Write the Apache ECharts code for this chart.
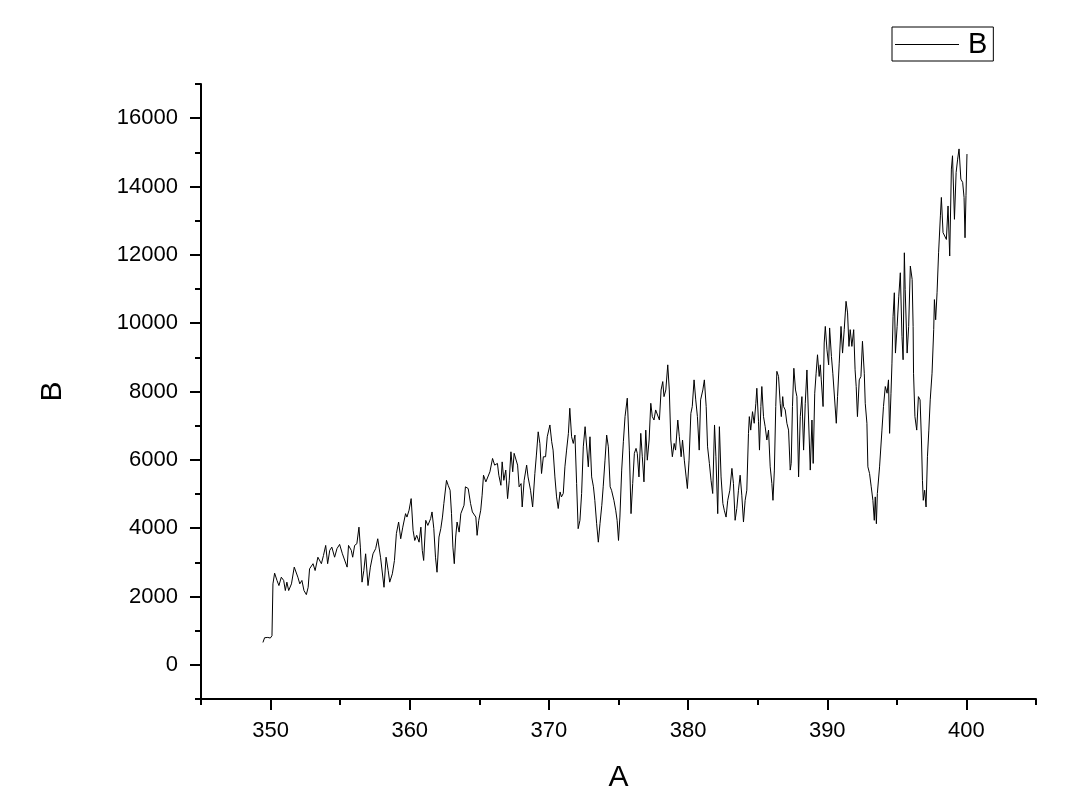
<!DOCTYPE html>
<html>
<head>
<meta charset="utf-8">
<script src="https://cdn.jsdelivr.net/npm/echarts@6/dist/echarts.min.js"></script>
<style>
html,body{margin:0;padding:0;background:#fff;}
#c{width:1077px;height:801px;}
</style>
</head>
<body>
<div id="c"></div>
<script>
// ---- data ----
const seriesName = 'B';
const xName = 'A';
const yName = 'B';
const xMajorTicks = [350, 360, 370, 380, 390, 400];
const xMinorTicks = [345, 355, 365, 375, 385, 395, 405];
const yMajorTicks = [0, 2000, 4000, 6000, 8000, 10000, 12000, 14000, 16000];
const yMinorTicks = [-1000, 1000, 3000, 5000, 7000, 9000, 11000, 13000, 15000, 17000];

const xValues = [
349.45,349.57,349.8,349.98,350.1,350.17,350.29,350.46,350.6,350.77,350.94,351.06,351.17,351.3,351.5,351.7,351.96,352.1,352.25,352.4,352.57,352.7,352.8,353.05,353.2,353.4,353.65,353.8,353.96,354.1,354.25,354.4,354.6,354.77,354.96,355.16,355.3,355.5,355.6,355.8,355.9,356.04,356.2,356.35,356.45,356.57,356.7,356.83,357.0,357.17,357.36,357.55,357.7,
357.9,358.0,358.15,358.3,358.45,358.56,358.75,358.9,359.04,359.2,359.35,359.5,359.7,359.8,359.95,360.1,360.24,360.36,360.5,360.67,360.8,360.9,361.0,361.15,361.3,361.5,361.6,361.73,361.85,361.96,362.1,362.23,362.35,362.45,362.64,362.76,362.9,363.0,363.1,363.2,363.3,363.4,363.55,363.67,363.8,363.9,364.0,364.2,364.37,364.5,364.6,364.75,364.84,364.96,365.1,365.2,365.3,365.47,365.6,
365.76,365.95,366.1,366.3,366.4,366.55,366.64,366.76,366.9,367.03,367.15,367.27,367.4,367.5,367.63,367.75,367.86,368.0,368.08,368.22,368.4,368.5,368.68,368.83,368.99,369.1,369.23,369.35,369.47,369.6,369.76,369.88,370.07,370.2,370.3,370.43,370.55,370.67,370.8,370.9,371.03,371.15,371.27,371.4,371.5,371.63,371.75,371.87,371.99,372.1,372.23,372.35,372.47,372.6,372.7,372.83,372.95,373.07,373.2,373.3,373.43,373.55,373.67,373.8,373.9,374.03,374.15,374.27,374.4,374.5,374.67,374.8,374.9,375.0,
375.1,375.23,375.35,375.47,375.63,375.78,375.9,376.02,376.14,376.26,376.35,376.47,376.6,376.71,376.83,376.96,377.07,377.2,377.32,377.43,377.55,377.67,377.8,377.94,378.06,378.18,378.27,378.4,378.54,378.65,378.76,378.87,379.0,379.1,379.26,379.37,379.5,379.6,379.73,379.86,379.95,380.07,380.2,380.3,380.43,380.55,380.67,380.8,380.9,381.06,381.17,381.3,381.4,381.53,381.65,381.77,381.9,382.0,382.13,382.25,382.37,382.5,382.6,382.73,382.85,
383.0,383.15,383.26,383.38,383.5,383.62,383.74,383.86,383.98,384.1,384.22,384.34,384.4,384.5,384.63,384.75,384.87,384.94,385.06,385.13,385.23,385.3,385.42,385.54,385.66,385.78,385.9,386.02,386.1,386.2,386.3,386.38,386.5,386.62,386.7,386.8,386.86,386.98,387.1,387.22,387.34,387.41,387.5,387.6,387.72,387.82,387.94,388.06,388.18,388.3,388.42,388.54,388.66,388.78,388.9,388.99,389.1,389.2,389.3,389.42,389.5,389.57,389.7,389.78,389.86,389.98,390.1,390.17,390.3,390.4,390.5,390.65,390.74,390.86,390.99,391.1,391.22,391.35,391.46,391.56,
391.65,391.77,391.9,392.0,392.08,392.17,392.3,392.42,392.53,392.66,392.73,392.85,392.92,393.04,393.16,393.28,393.38,393.45,393.53,393.6,393.76,393.93,394.04,394.17,394.3,394.4,394.48,394.58,394.65,394.73,394.82,394.9,395.02,395.14,395.25,395.37,395.45,395.54,395.6,395.74,395.85,395.97,396.1,396.17,396.2,396.3,396.43,396.55,396.67,396.77,396.84,396.9,397.0,397.1,397.2,397.3,397.4,397.53,397.65,397.7,397.79,397.89,398.0,398.13,398.2,398.32,398.44,398.56,398.68,398.8,398.92,399.0,399.14,399.26,399.37,399.47,399.6,399.73,399.83,399.9,399.97,400.04
];

const yValues = [
655,793,802,784,852,2370,2683,2470,2320,2565,2470,2175,2420,2175,2370,2860,2565,2370,2470,2175,2055,2270,2810,2960,2760,3150,2960,3200,3495,2960,3350,3445,3150,3400,3525,3250,3300,2860,3495,3350,3150,3495,3545,4030,3445,2420,2760,3250,2320,2860,3250,3400,3690,
3150,3100,2270,3150,2760,2420,2665,3055,3840,4180,3690,4030,4425,4325,4525,4865,3935,3640,3790,3590,4030,3350,3055,4230,4080,4280,4475,3985,3150,2710,3740,3985,4325,4720,5400,5255,5110,4425,3445,2960,3740,4180,3885,4425,4475,4670,5210,5160,4720,4475,4475,4325,3790,4230,4525,4965,5550,5355,5305,
5650,6040,5845,5895,5550,5255,5940,5400,5700,4865,5400,6235,5650,6190,6235,5845,5210,5305,4620,5400,5845,5500,5110,4620,5600,6140,6820,6480,5600,6090,6090,6675,7020,6530,6285,5500,4915,4575,5060,4915,5015,5795,6285,6775,7510,6675,6480,6725,5305,3985,4230,5015,6380,6970,7020,5795,6675,5500,5210,4815,4130,3590,4130,4670,5210,5990,6725,6380,5210,5110,4815,4525,4230,3640,
4325,5700,6530,7265,7805,6285,4425,5305,6190,6335,6190,5500,6775,6090,5355,6870,5990,6580,7655,7265,7165,7460,7510,7165,8045,8290,7850,8045,8780,8045,6580,6090,6480,6285,7165,6675,6090,6580,5990,5500,5160,5990,7360,7560,8340,7755,7265,6285,7755,8045,8340,7560,6380,5895,5400,5015,7020,6090,4425,6970,5500,4720,4525,4325,4815,
5110,5750,5305,4230,4575,5110,5550,4965,4180,4815,5110,6775,7265,6870,7410,7070,7655,8095,7115,6285,7560,8145,7265,6970,6580,6870,5795,5305,4815,5700,7560,8590,8440,7655,7265,7850,7560,7460,7070,6870,5700,5895,7560,8680,8045,7850,5500,7265,7850,6285,7655,8630,7165,5700,7165,5895,7950,8535,9075,8440,8780,8340,7560,9420,9905,9220,8780,9860,9025,8535,8535,7070,7850,8830,9905,9125,9810,10640,10300,9320,
9810,9320,9810,8635,8145,7265,8340,8440,9470,8535,7655,7070,5795,5600,5210,4815,4230,4915,4130,5015,5795,6870,7560,8145,7950,8340,6775,7950,8830,10200,10890,9125,9905,10790,11475,9615,8930,12060,10985,9125,9905,11670,11280,9905,8535,7265,6870,7850,7755,6580,5400,4815,5110,4620,6090,6870,7755,8535,9810,10690,10100,10890,12060,13140,13680,12650,12550,12450,13430,11965,14510,14900,13040,14410,14800,15100,14215,14120,13680,12500,13730,14950
];

const seriesData = xValues.map((x, i) => [x, yValues[i]]);

const FONT = '"Liberation Sans", Arial, sans-serif';
const chart = echarts.init(document.getElementById('c'), null, {renderer: 'canvas'});

const axisLineStyle = {color: '#000', width: 2};
const plainNumber = v => String(v);

chart.setOption({
  animation: false,
  backgroundColor: '#fff',
  grid: {left: 201, right: 41, top: 84, bottom: 102, containLabel: false},
  legend: {
    left: 892, top: 27,
    orient: 'horizontal',
    borderColor: '#000', borderWidth: 1, borderRadius: 0,
    padding: [3, 6, 2, 3],
    itemWidth: 64, itemHeight: 1,
    icon: 'rect',
    textStyle: {fontFamily: FONT, fontSize: 29, color: '#000', padding: [0, 0, 0, 4]},
    data: [{name: seriesName, icon: 'rect', itemStyle: {color: '#000'}}]
  },
  xAxis: [
    {
      type: 'value', min: 345, max: 405, interval: 5,
      position: 'bottom',
      name: xName, nameLocation: 'middle', nameGap: 64,
      nameTextStyle: {fontFamily: FONT, fontSize: 30, color: '#000'},
      axisLine: {show: true, onZero: false, lineStyle: axisLineStyle},
      axisTick: {show: true, inside: false, length: 11, lineStyle: axisLineStyle, customValues: xMajorTicks},
      axisLabel: {show: true, fontFamily: FONT, fontSize: 22, color: '#000', margin: 21, customValues: xMajorTicks, formatter: plainNumber},
      splitLine: {show: false}
    },
    {
      type: 'value', min: 345, max: 405, interval: 5,
      position: 'bottom',
      axisLine: {show: false, onZero: false},
      axisTick: {show: true, inside: false, length: 6, lineStyle: axisLineStyle, customValues: xMinorTicks},
      axisLabel: {show: false},
      splitLine: {show: false}
    }
  ],
  yAxis: [
    {
      type: 'value', min: -1000, max: 17000, interval: 1000,
      position: 'left',
      name: yName, nameLocation: 'middle', nameGap: 133, nameRotate: 90,
      nameTextStyle: {fontFamily: FONT, fontSize: 30, color: '#000'},
      axisLine: {show: true, onZero: false, lineStyle: axisLineStyle},
      axisTick: {show: true, inside: false, length: 11, lineStyle: axisLineStyle, customValues: yMajorTicks},
      axisLabel: {show: true, fontFamily: FONT, fontSize: 22, color: '#000', margin: 23, customValues: yMajorTicks, formatter: plainNumber},
      splitLine: {show: false}
    },
    {
      type: 'value', min: -1000, max: 17000, interval: 1000,
      position: 'left',
      axisLine: {show: false, onZero: false},
      axisTick: {show: true, inside: false, length: 6, lineStyle: axisLineStyle, customValues: yMinorTicks},
      axisLabel: {show: false},
      splitLine: {show: false}
    }
  ],
  series: [{
    name: seriesName,
    type: 'line',
    xAxisIndex: 0, yAxisIndex: 0,
    data: seriesData,
    showSymbol: false, symbol: 'none',
    lineStyle: {color: '#000', width: 1},
    itemStyle: {color: '#000'},
    sampling: null
  }]
});
</script>
</body>
</html>
